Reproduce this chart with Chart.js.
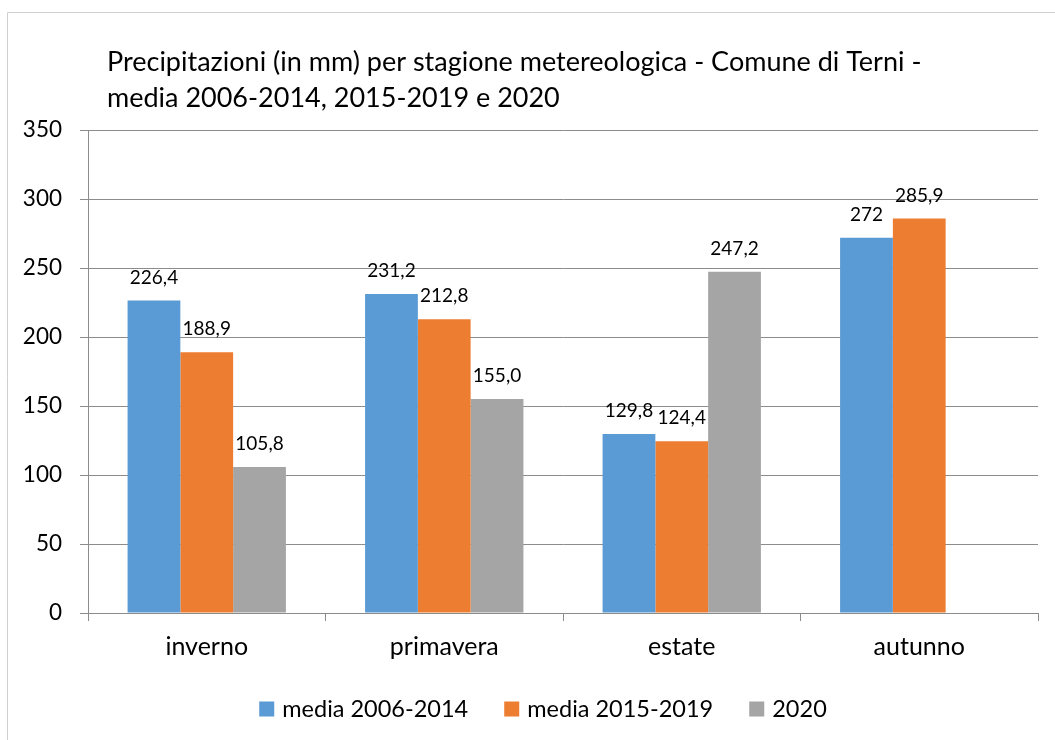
<!DOCTYPE html>
<html>
<head>
<meta charset="utf-8">
<script src="https://cdn.jsdelivr.net/npm/chart.js@4.4.1/dist/chart.umd.min.js"></script>
<style>
  html,body{margin:0;padding:0;background:#fff;overflow:hidden;}
  #host{position:relative;width:1055px;height:740px;}
</style>
</head>
<body>
<div id="host"><canvas id="c"></canvas></div>
<script>
const TITLE_LINES = ['Precipitazioni (in mm) per stagione metereologica - Comune di Terni -', 'media 2006-2014, 2015-2019 e 2020'];
const SEASONS = ['inverno','primavera','estate','autunno'];
const SERIES_NAMES = ['media 2006-2014','media 2015-2019','2020'];
const MEDIA_0614 = [226.4, 231.2, 129.8, 272];
const MEDIA_1519 = [188.9, 212.8, 124.4, 285.9];
const ANNO_2020 = [105.8, 155.0, 247.2, null];
const LABELS_0614 = ['226,4','231,2','129,8','272'];
const LABELS_1519 = ['188,9','212,8','124,4','285,9'];
const LABELS_2020 = ['105,8','155,0','247,2',''];
const Y_TICKS = [0,50,100,150,200,250,300,350];

const COLORS = ['#5b9bd5','#ed7d31','#a5a5a5'];
const FONT = 'Lato, "Open Sans", sans-serif';
const GRID = '#8c8c8c';

// frame + title
const Decor = {
  id:'decor',
  beforeDraw(chart){
    const ctx = chart.ctx;
    ctx.save();
    ctx.strokeStyle = '#d0d0d0'; ctx.lineWidth = 1;
    ctx.beginPath();
    ctx.moveTo(7.5, 740); ctx.lineTo(7.5, 12.5); ctx.lineTo(1055, 12.5);
    ctx.stroke();
    ctx.fillStyle = '#000';
    ctx.font = '27px ' + FONT;
    ctx.textBaseline = 'middle'; ctx.textAlign = 'left';
    ctx.fillText(TITLE_LINES[0], 107, 62);
    ctx.fillText(TITLE_LINES[1], 107, 98);
    ctx.restore();
  }
};

// value labels above bars
const BarLabels = {
  id:'barLabels',
  afterDatasetsDraw(chart){
    const ctx = chart.ctx;
    ctx.save();
    ctx.fillStyle = '#000';
    ctx.font = '19px ' + FONT;
    ctx.textAlign = 'center'; ctx.textBaseline = 'middle';
    chart.data.datasets.forEach((ds, i)=>{
      const meta = chart.getDatasetMeta(i);
      meta.data.forEach((el, j)=>{
        const txt = ds.valueLabels[j];
        if(!txt || ds.data[j]==null) return;
        ctx.fillText(txt, el.x, el.y - 23);
      });
    });
    ctx.restore();
  }
};

// legend row under the axis, centered like the original
const Legend = {
  id:'legendRow',
  afterDraw(chart){
    const ctx = chart.ctx;
    ctx.save();
    ctx.font = '23.5px ' + FONT;
    ctx.textBaseline = 'middle'; ctx.textAlign = 'left';
    const box = 15, gapIn = 8, gapOut = 36, cy = 709, cx = 543;
    const items = chart.data.datasets.map(d=>({t:d.label, c:d.backgroundColor, w:box+gapIn+ctx.measureText(d.label).width}));
    const total = items.reduce((a,b)=>a+b.w,0) + gapOut*(items.length-1);
    let x = cx - total/2;
    items.forEach(it=>{
      ctx.fillStyle = it.c;
      ctx.fillRect(x, cy - box/2, box, box);
      ctx.fillStyle = '#000';
      ctx.fillText(it.t, x + box + gapIn, cy);
      x += it.w + gapOut;
    });
    ctx.restore();
  }
};

const seriesData = [MEDIA_0614, MEDIA_1519, ANNO_2020];
const seriesLabels = [LABELS_0614, LABELS_1519, LABELS_2020];

new Chart(document.getElementById('c'), {
  type:'bar',
  data:{
    labels:SEASONS,
    datasets:SERIES_NAMES.map((n,i)=>({
      label:n, data:seriesData[i], valueLabels:seriesLabels[i],
      backgroundColor:COLORS[i], borderWidth:0,
      categoryPercentage:0.6667, barPercentage:1
    }))
  },
  options:{
    responsive:true, maintainAspectRatio:false, animation:false,
    layout:{padding:{top:130, left:10, right:17, bottom:77}},
    plugins:{legend:{display:false}, tooltip:{enabled:false}},
    scales:{
      x:{
        grid:{display:true, drawOnChartArea:false, drawTicks:true, tickLength:8, color:GRID, offset:true},
        border:{display:true, color:GRID},
        ticks:{color:'#000', font:{family:FONT, size:25}, padding:11},
        afterFit(s){ s.height = 50; }
      },
      y:{
        min:0, max:350,
        afterBuildTicks(s){ s.ticks = Y_TICKS.map(v=>({value:v})); },
        grid:{color:GRID, tickLength:8},
        border:{display:true, color:GRID},
        ticks:{color:'#000', font:{family:FONT, size:22.5}, padding:18},
        afterFit(s){ s.width = 78; }
      }
    }
  },
  plugins:[Decor, BarLabels, Legend]
});
</script>
</body>
</html>
